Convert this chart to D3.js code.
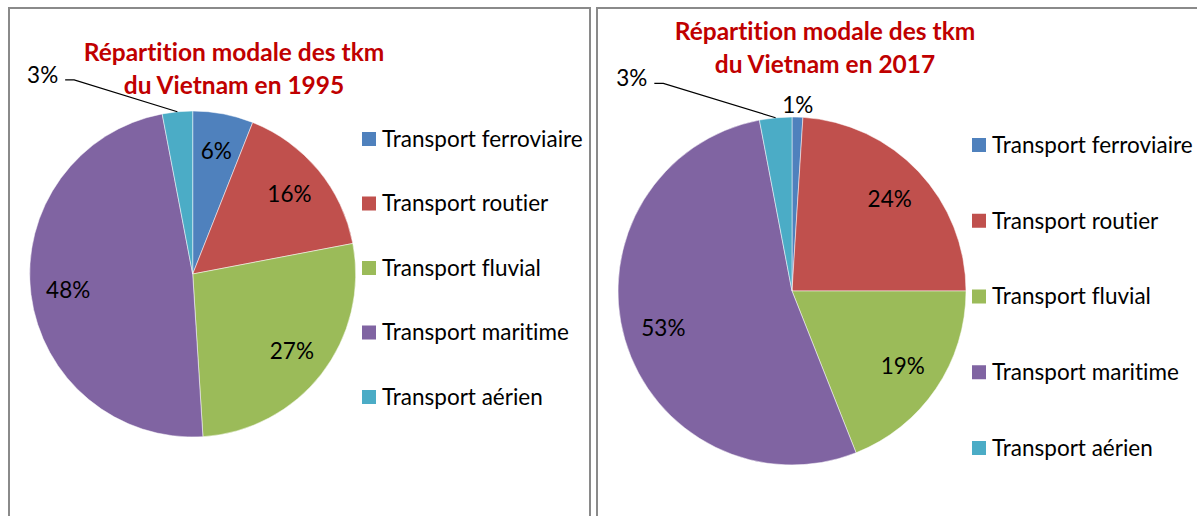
<!DOCTYPE html>
<html>
<head>
<meta charset="utf-8">
<script src="https://cdn.jsdelivr.net/npm/d3@7"></script>
<style>
  body { margin: 0; background: #fff; }
  svg { display: block; font-family: Lato, 'Noto Sans', sans-serif; font-variant-ligatures: none; }
</style>
</head>
<body>
<svg id="chart" width="1197" height="516"></svg>
<script>
'use strict';

// categories and shares (% of tkm)
const categories = ['Transport ferroviaire', 'Transport routier', 'Transport fluvial', 'Transport maritime', 'Transport aérien'];
const shares1995 = [6, 16, 27, 48, 3];
const shares2017 = [1, 24, 19, 53, 3];
const titleLines1995 = ['Répartition modale des tkm', 'du Vietnam en 1995'];
const titleLines2017 = ['Répartition modale des tkm', 'du Vietnam en 2017'];

const colors = ['#4F81BD', '#C0504D', '#9BBB59', '#8064A2', '#4BACC6'];

const charts = [
    {
        values: shares1995, title: titleLines1995,
        panel: {x: 9, y: 8, w: 581, h: 530},
        cx: 192.7, cy: 274, r: 163,
        titleX: 234, titleY: 52,
        legendX: 362, legendRange: [139, 397],
        labels: ['in', 'in', 'in', 'in', 'callout']
    },
    {
        values: shares2017, title: titleLines2017,
        panel: {x: 597, y: 8, w: 620, h: 530},
        cx: 792, cy: 291, r: 174,
        titleX: 825, titleY: 31,
        legendX: 972, legendRange: [145, 448],
        labels: ['out', 'in', 'in', 'in', 'callout']
    }
];

const svg = d3.select('#chart');
const color = d3.scaleOrdinal().domain(categories).range(colors);

const pie = d3.pie()
    .sort(null)
    .value(d => d.value);

charts.forEach(cfg => {
    const data = categories.map((c, i) => ({name: c, value: cfg.values[i]}));
    const arcs = pie(data);

    // panel frame
    svg.append('rect')
        .attr('x', cfg.panel.x)
        .attr('y', cfg.panel.y)
        .attr('width', cfg.panel.w)
        .attr('height', cfg.panel.h)
        .attr('fill', 'none')
        .attr('stroke', '#8a8a8a')
        .attr('stroke-width', 2);

    // title
    svg.append('text')
        .attr('x', cfg.titleX)
        .attr('y', cfg.titleY)
        .attr('text-anchor', 'middle')
        .attr('fill', '#C00000')
        .style('font-weight', 'bold')
        .style('font-size', '24.5px')
        .selectAll('tspan')
        .data(cfg.title)
        .enter().append('tspan')
        .attr('x', cfg.titleX)
        .attr('dy', (d, i) => i === 0 ? '0.35em' : 33)
        .text(d => d);

    const g = svg.append('g')
        .attr('transform', `translate(${cfg.cx},${cfg.cy})`);

    const arc = d3.arc().innerRadius(0).outerRadius(cfg.r);
    const labelArc = d3.arc().innerRadius(cfg.r * 0.77).outerRadius(cfg.r * 0.77);
    const outArc = d3.arc().innerRadius(cfg.r * 1.07).outerRadius(cfg.r * 1.07);

    g.selectAll('path')
        .data(arcs)
        .enter().append('path')
        .attr('d', arc)
        .attr('fill', d => color(d.data.name))
        .attr('stroke', '#fff')
        .attr('stroke-width', 0.5);

    const labelFont = '22.5px';

    arcs.forEach((d, i) => {
        const mode = cfg.labels[i];
        const txt = d.data.value + '%';
        if (mode === 'in' || mode === 'out') {
            const pos = (mode === 'in' ? labelArc : outArc).centroid(d);
            g.append('text')
                .attr('x', pos[0])
                .attr('y', pos[1])
                .attr('text-anchor', 'middle')
                .attr('dy', '0.35em')
                .style('font-size', labelFont)
                .attr('fill', '#000')
                .text(txt);
        } else {
            // callout label placed up-left, with leader line to the arc
            const mid = (d.startAngle + d.endAngle) / 2;
            const a = -37 * Math.PI / 180;
            const lx = Math.sin(a) * cfg.r * 1.53;
            const ly = -Math.cos(a) * cfg.r * 1.53;
            const t = g.append('text')
                .attr('x', lx)
                .attr('y', ly)
                .attr('text-anchor', 'middle')
                .attr('dy', '0.35em')
                .style('font-size', labelFont)
                .attr('fill', '#000')
                .text(txt);
            const w = t.node().getComputedTextLength();
            const x0 = lx + w / 2 + 7;
            const y0 = ly + 5;
            const ax = Math.sin(mid) * cfg.r;
            const ay = -Math.cos(mid) * cfg.r;
            g.append('path')
                .attr('d', d3.line()([[x0, y0], [x0 + 9, y0], [ax, ay]]))
                .attr('fill', 'none')
                .attr('stroke', '#000')
                .attr('stroke-width', 1.2);
        }
    });

    // legend
    const ly = d3.scalePoint().domain(categories).range(cfg.legendRange);
    const leg = svg.append('g')
        .selectAll('g')
        .data(categories)
        .enter().append('g')
        .attr('transform', d => `translate(${cfg.legendX},${ly(d)})`);
    leg.append('rect')
        .attr('x', 0)
        .attr('y', -7)
        .attr('width', 14)
        .attr('height', 14)
        .attr('fill', d => color(d));
    leg.append('text')
        .attr('x', 20)
        .attr('dy', '0.35em')
        .style('font-size', labelFont)
        .attr('fill', '#000')
        .text(d => d);
});
</script>
</body>
</html>
